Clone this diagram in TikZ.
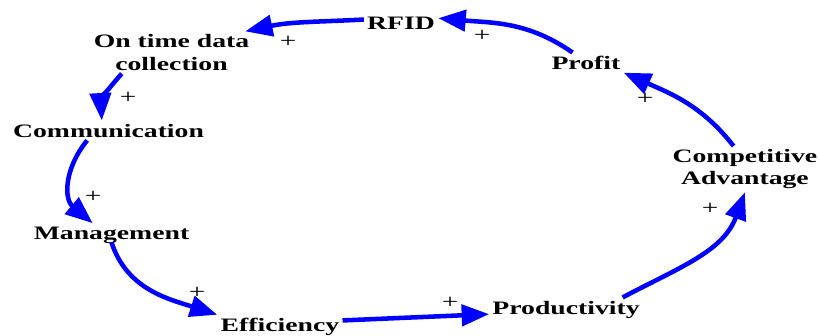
\documentclass[tikz,border=0pt]{standalone}
\usepackage{fontspec}
\usepackage{tikz}
\usetikzlibrary{arrows.meta}
\newfontfamily\loopfont[FakeStretch=1.46]{Liberation Serif}
\definecolor{linkblue}{HTML}{0000FF}

\begin{document}
\begin{tikzpicture}[
  var/.style={inner sep=3pt,
    font=\loopfont\fontsize{18}{21}\selectfont\bfseries},
  oneline/.style={var, anchor=base, text depth=0pt},
  twoline/.style={var, align=center},
  pol/.style={inner sep=0pt, font=\loopfont\fontsize{19}{19}\selectfont},
  link/.style={->, linkblue, line width=4.3pt},
  >={Triangle[length=26pt, width=20pt]}
]
  \useasboundingbox (0,0) rectangle (27.3,11.167);

  % Loop variables
  \node[oneline] (rfid) at (13.37, 10.2) {RFID};
  \node[twoline] (ontime) at (5.717, 9.417) {On time data\\collection};
  \node[oneline] (comm) at (3.617, 6.6) {Communication};
  \node[oneline] (mgmt) at (3.717, 3.2) {Management};
  \node[oneline] (eff) at (9.33, 0.117) {Efficiency};
  \node[oneline] (prod) at (18.87, 0.7) {Productivity};
  \node[twoline] (comp) at (24.83, 5.527) {Competitive\\Advantage};
  \node[oneline] (profit) at (19.53, 8.857) {Profit};

  % Causal links, running anticlockwise
  \draw[link] (rfid.175) to[out=183, in=12] (ontime.16);
  \draw[link] (ontime.203) to[out=228, in=93] (comm.124);
  \draw[link] (comm.205) to[out=231, in=140, looseness=1.15] (mgmt.153);
  \draw[link] (mgmt.south) to[out=-72, in=162] (eff.north west);
  \draw[link] (eff.4) -- (prod.185);
  \draw[link] (prod.10) to[out=28, in=250] (comp.south);
  \draw[link] (comp.116) to[out=128, in=-24] (profit.south east);
  \draw[link] (profit.143) to[out=145, in=-5] (rfid.7);

  % Link polarities
  \foreach \x/\y [count=\i] in {9.6/9.767, 4.267/7.9, 3.1/4.6, 6.567/1.4,
      15/1.067, 23.667/4.2, 21.5/7.867, 16.067/9.967} {
    \node[pol] (pol\i) at (\x, \y) {+};
  }
\end{tikzpicture}
\end{document}
